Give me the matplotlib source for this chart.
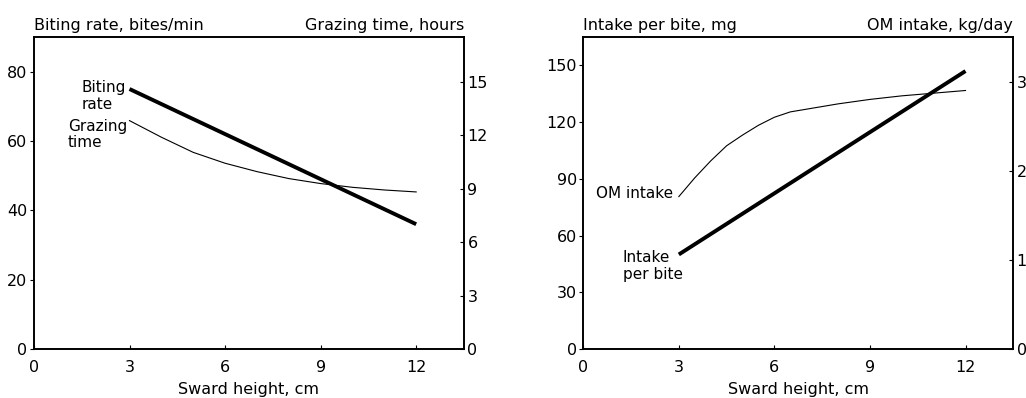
import numpy as np
import matplotlib.pyplot as plt

plt.rcParams['font.family'] = ['DejaVu Sans']
plt.rcParams['font.size'] = 11.5

# Left panel data
height = [3, 12]
biting_rate = [75, 36]
graze_x = [3, 4, 5, 6, 7, 8, 9, 10, 11, 12]
grazing_time = [12.81, 11.88, 11.03, 10.42, 9.95, 9.56, 9.28, 9.07, 8.92, 8.81]

# Right panel data
intake_per_bite = [50, 147]
om_x = [3, 3.5, 4, 4.5, 5, 5.5, 6, 6.5, 7, 8, 9, 10, 11, 12]
om_intake = [1.71, 1.92, 2.11, 2.28, 2.40, 2.51, 2.60, 2.66, 2.69, 2.75, 2.80, 2.84, 2.87, 2.90]

fig = plt.figure(figsize=(10.26, 3.98), dpi=100)
ax1 = fig.add_axes([0.0331, 0.1231, 0.4191, 0.7839])
ax3 = fig.add_axes([0.5685, 0.1231, 0.4191, 0.7839])


def style(ax, twin, yticks, ylim, tticks, tlim, left_title, right_title):
    ax.set_xlim(0, 13.5)
    ax.set_xticks([0, 3, 6, 9, 12])
    ax.set_ylim(*ylim)
    ax.set_yticks(yticks)
    twin.set_ylim(*tlim)
    twin.set_yticks(tticks)
    for s in ax.spines.values():
        s.set_linewidth(1.2)
    for s in twin.spines.values():
        s.set_linewidth(1.2)
    ax.tick_params(axis='x', direction='in', length=3.2, width=0.8, pad=8)
    ax.tick_params(axis='y', direction='out', length=3.2, width=0.8, pad=1.5)
    twin.tick_params(axis='y', direction='in', length=3.2, width=0.8, pad=2.5)
    ax.set_xlabel('Sward height, cm', labelpad=5)
    ax.text(0, 1.037, left_title, transform=ax.transAxes, ha='left', va='center')
    ax.text(1, 1.037, right_title, transform=ax.transAxes, ha='right', va='center')


ax2 = ax1.twinx()
ax1.plot(height, biting_rate, color='black', lw=2.8, solid_capstyle='butt')
ax2.plot(graze_x, grazing_time, color='black', lw=0.8)
style(ax1, ax2, [0, 20, 40, 60, 80], (0, 90), [0, 3, 6, 9, 12, 15], (0, 17.5),
      'Biting rate, bites/min', 'Grazing time, hours')
ax1.text(1.5, 77.6, 'Biting\nrate', ha='left', va='top', fontsize=11, linespacing=1.2)
ax1.text(1.07, 66.4, 'Grazing\ntime', ha='left', va='top', fontsize=11, linespacing=1.1)

ax4 = ax3.twinx()
ax3.plot(height, intake_per_bite, color='black', lw=2.8, solid_capstyle='butt')
ax4.plot(om_x, om_intake, color='black', lw=0.8)
style(ax3, ax4, [0, 30, 60, 90, 120, 150], (0, 165), [0, 1, 2, 3], (0, 3.5),
      'Intake per bite, mg', 'OM intake, kg/day')
ax3.text(2.82, 82, 'OM intake', ha='right', va='center', fontsize=11)
ax3.text(1.24, 52.5, 'Intake\nper bite', ha='left', va='top', fontsize=11, linespacing=1.2)

fig.savefig('out.png', dpi=100)
